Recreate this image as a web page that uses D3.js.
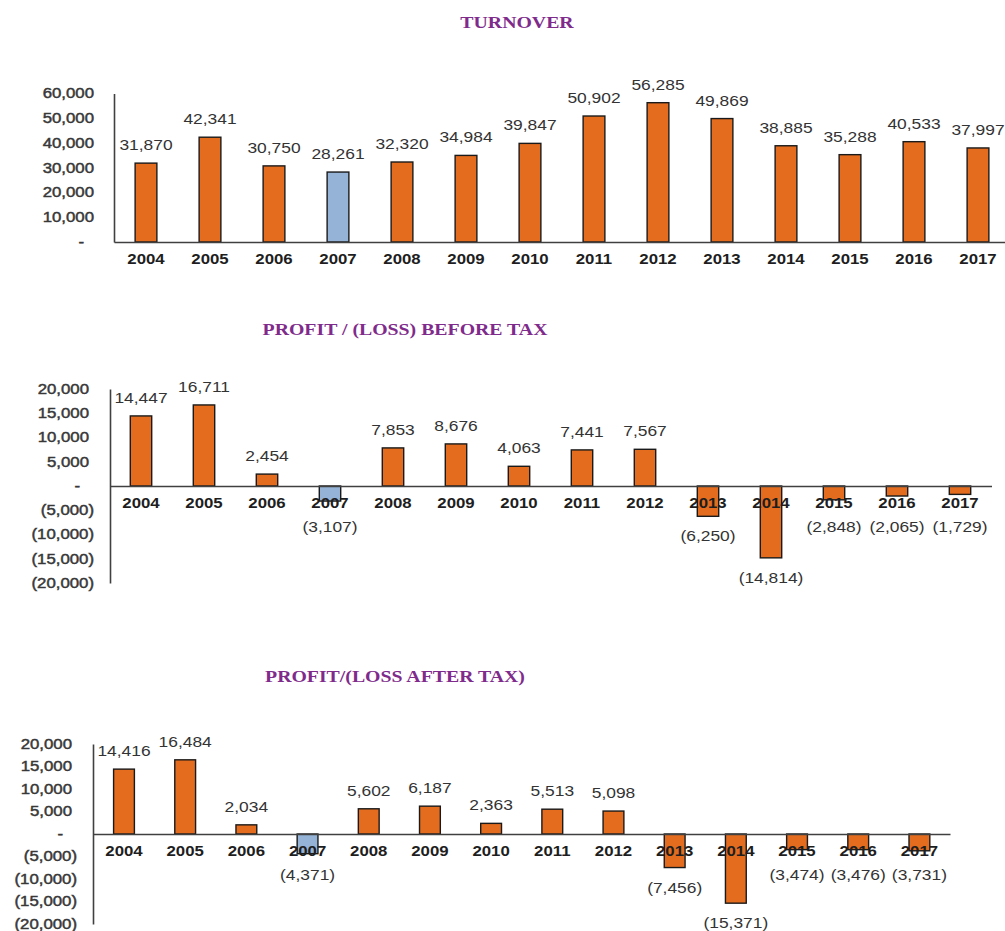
<!DOCTYPE html>
<html>
<head>
<meta charset="utf-8">
<script src="https://cdn.jsdelivr.net/npm/d3@7"></script>
<style>
  html, body { margin: 0; padding: 0; background: #ffffff; }
  svg { display: block; }
</style>
</head>
<body>
<svg id="chart" width="1005" height="931"></svg>
<script>
// ---------------- DATA ----------------
const years = ["2004","2005","2006","2007","2008","2009","2010","2011","2012","2013","2014","2015","2016","2017"];
const turnover = [31870, 42341, 30750, 28261, 32320, 34984, 39847, 50902, 56285, 49869, 38885, 35288, 40533, 37997];
const profitBeforeTax = [14447, 16711, 2454, -3107, 7853, 8676, 4063, 7441, 7567, -6250, -14814, -2848, -2065, -1729];
const profitAfterTax = [14416, 16484, 2034, -4371, 5602, 6187, 2363, 5513, 5098, -7456, -15371, -3474, -3476, -3731];
const turnoverTicks = [0, 10000, 20000, 30000, 40000, 50000, 60000];
const profitTicks = [-20000, -15000, -10000, -5000, 0, 5000, 10000, 15000, 20000];
const titles = ["TURNOVER", "PROFIT / (LOSS) BEFORE TAX", "PROFIT/(LOSS AFTER TAX)"];
const highlightYear = "2007";

// ---------------- STYLE / LAYOUT ----------------
const ORANGE = "#E36C1F";
const BLUE = "#95B3D7";
const PURPLE = "#7F2B8C";
const STRETCH = 1.2;

const charts = [
  { title: titles[0], values: turnover, ticks: turnoverTicks, domain: [0, 60000],
    titleX: 517, titleY: 22, axisX: 114, bandStart: 114, bandEnd: 1010,
    yRange: [242, 93.5], posOff: 20 },
  { title: titles[1], values: profitBeforeTax, ticks: profitTicks, domain: [-20000, 20000],
    titleX: 405, titleY: 329, axisX: 110, bandStart: 109.5, bandEnd: 991.5,
    yRange: [583, 389], posOff: 21 },
  { title: titles[2], values: profitAfterTax, ticks: profitTicks, domain: [-20000, 20000],
    titleX: 395, titleY: 676, axisX: 93, bandStart: 93.4, bandEnd: 950,
    yRange: [924, 744], posOff: 21 }
];

const svg = d3.select("#chart");
const comma = d3.format(",");
const valueFmt = v => v < 0 ? "(" + comma(-v) + ")" : comma(v);
const tickFmt = v => v === 0 ? "-" : (v < 0 ? "(" + comma(-v) + ")" : comma(v));

charts.forEach(c => {
  const g = svg.append("g");
  const x = d3.scaleBand().domain(years).range([c.bandStart, c.bandEnd])
    .paddingInner(0.66).paddingOuter(0.33);
  const y = d3.scaleLinear().domain(c.domain).range(c.yRange);
  const base = y(0);

  // title
  g.append("text")
    .attr("transform", `translate(${c.titleX},${c.titleY}) scale(${STRETCH},1)`)
    .attr("text-anchor", "middle").attr("dy", "0.35em")
    .attr("font-family", "'Liberation Serif', 'Times New Roman', serif")
    .attr("font-weight", "bold").attr("font-size", 16.5)
    .attr("fill", PURPLE).text(c.title);

  // y axis
  const yAxis = d3.axisLeft(y).tickValues(c.ticks).tickSize(0).tickFormat(tickFmt);
  const ya = g.append("g").attr("transform", `translate(${c.axisX},0)`).call(yAxis);
  ya.select(".domain").attr("stroke", "#404040").attr("stroke-width", 1.6);
  ya.selectAll(".tick text")
    .attr("x", null)
    .attr("transform", d => {
      const off = d === 0 ? 30 : (d < 0 ? 16 : c.posOff);
      return `translate(${-off},0) scale(${STRETCH},1)`;
    })
    .attr("text-anchor", "end")
    .attr("font-family", "'Liberation Sans', Arial, sans-serif")
    .attr("font-weight", "normal").attr("font-size", 14)
    .attr("fill", "#383838")
    .attr("stroke", "#383838").attr("stroke-width", 0.45);

  // bars
  g.selectAll("rect.bar").data(c.values).join("rect")
    .attr("class", "bar")
    .attr("x", (d, i) => x(years[i]))
    .attr("width", x.bandwidth())
    .attr("y", d => Math.min(y(d), base))
    .attr("height", d => Math.abs(y(d) - base))
    .attr("fill", (d, i) => years[i] === highlightYear ? BLUE : ORANGE)
    .attr("stroke", "#1a1a1a").attr("stroke-width", 1.4);

  // x axis (baseline + year labels)
  const xAxis = d3.axisBottom(x).tickSize(0).tickSizeOuter(0);
  const xa = g.append("g").attr("transform", `translate(0,${base})`).call(xAxis);
  xa.select(".domain").attr("stroke", "#404040").attr("stroke-width", 1.6);
  xa.selectAll(".tick text")
    .attr("y", null).attr("dy", null)
    .attr("transform", `translate(0,17) scale(${STRETCH},1)`)
    .attr("dy", "0.35em")
    .attr("font-family", "'Liberation Sans', Arial, sans-serif")
    .attr("font-weight", "bold").attr("font-size", 14)
    .attr("fill", "#1e1e1e");

  // value labels
  g.selectAll("text.val").data(c.values).join("text")
    .attr("class", "val")
    .attr("transform", (d, i) => {
      const cx = x(years[i]) + x.bandwidth() / 2;
      const cy = d >= 0 ? y(d) - 18 : Math.max(y(d) + 20, base + 41);
      return `translate(${cx},${cy}) scale(${STRETCH},1)`;
    })
    .attr("text-anchor", "middle").attr("dy", "0.35em")
    .attr("font-family", "'Liberation Sans', Arial, sans-serif")
    .attr("font-size", 14.5).attr("fill", "#333333")
    .text(valueFmt);
});
</script>
</body>
</html>
